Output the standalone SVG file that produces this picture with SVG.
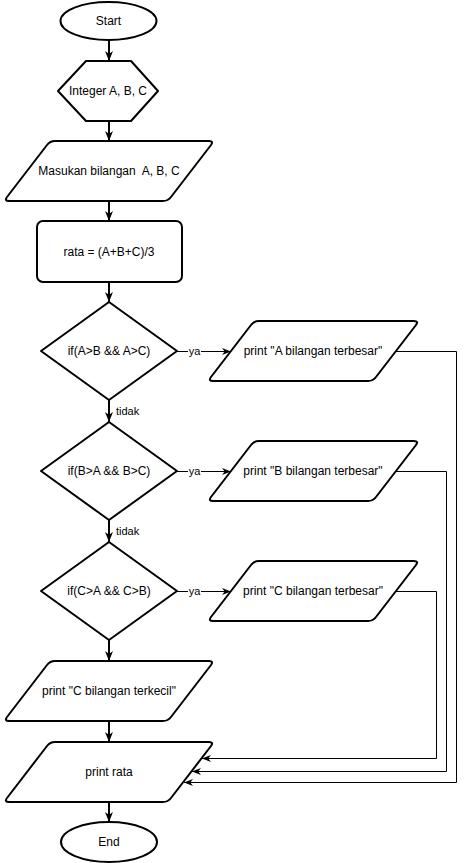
<svg xmlns="http://www.w3.org/2000/svg" width="465" height="863" viewBox="0 0 465 863">
<style>
.s{fill:#fff;stroke:#000;stroke-width:2;stroke-linejoin:round}
.t{font-family:"Liberation Sans",Arial,sans-serif;font-size:12px;fill:#000;text-anchor:middle;dominant-baseline:central;white-space:pre}
.l{font-family:"Liberation Sans",Arial,sans-serif;font-size:11px;fill:#000;dominant-baseline:central}
.m{fill:none;stroke:#000;stroke-width:2}
.r{fill:none;stroke:#000;stroke-width:1}
</style>
<defs>
<marker id="a2" markerUnits="userSpaceOnUse" markerWidth="10" markerHeight="10" viewBox="0 0 10 10" refX="10" refY="5" orient="auto">
<path d="M0,1 L10,5 L0,9 L3,5 Z" fill="#000"/>
</marker>
<marker id="a1" markerUnits="userSpaceOnUse" markerWidth="9" markerHeight="9" viewBox="0 0 10 10" refX="10" refY="5" orient="auto">
<path d="M0,1 L10,5 L0,9 L3,5 Z" fill="#000"/>
</marker>
</defs>
<g id="connectors">
<path class="m" d="M109,39 V61" marker-end="url(#a2)"/>
<path class="m" d="M109,121 V141" marker-end="url(#a2)"/>
<path class="m" d="M109,201 V221" marker-end="url(#a2)"/>
<path class="m" d="M109,282 V302" marker-end="url(#a2)"/>
<path class="m" d="M109,400 V422" marker-end="url(#a2)"/>
<path class="m" d="M109,520 V542" marker-end="url(#a2)"/>
<path class="m" d="M109,640 V661" marker-end="url(#a2)"/>
<path class="m" d="M109,721 V742" marker-end="url(#a2)"/>
<path class="m" d="M109,801 V822" marker-end="url(#a2)"/>
<path class="r" d="M177,351.5 H231" marker-end="url(#a1)"/>
<path class="r" d="M177,471.5 H231" marker-end="url(#a1)"/>
<path class="r" d="M177,591.5 H231" marker-end="url(#a1)"/>
<path class="r" d="M396,351.5 H456.5 V782.5 H184" marker-end="url(#a1)"/>
<path class="r" d="M396,471.5 H446.5 V771.5 H192" marker-end="url(#a1)"/>
<path class="r" d="M396,591.5 H436.5 V758.5 H202" marker-end="url(#a1)"/>
<rect x="188" y="344" width="13" height="14" fill="#fff"/>
<text class="l" x="194.5" y="351" text-anchor="middle">ya</text>
<rect x="188" y="464" width="13" height="14" fill="#fff"/>
<text class="l" x="194.5" y="471" text-anchor="middle">ya</text>
<rect x="188" y="584" width="13" height="14" fill="#fff"/>
<text class="l" x="194.5" y="591" text-anchor="middle">ya</text>
<text class="l" x="116" y="411">tidak</text>
<text class="l" x="116" y="531">tidak</text>
</g>
<g id="start">
<ellipse class="s" cx="108.5" cy="21" rx="48" ry="19"/>
<text class="t" x="108.5" y="21">Start</text>
</g>
<g id="integer">
<path class="s" d="M58,91 L86,61 H131 L158,91 L131,121 H86 Z"/>
<text class="t" x="108" y="91">Integer A, B, C</text>
</g>
<g id="input">
<path class="s" d="M55,141 H209 Q214,141 211,145 L171,197 Q168,201 163,201 H9 Q4,201 7,197 L47,145 Q50,141 55,141 Z"/>
<text class="t" x="109" y="171" xml:space="preserve">Masukan bilangan  A, B, C</text>
</g>
<g id="rata">
<rect class="s" x="37" y="221" width="145" height="61" rx="6"/>
<text class="t" x="109" y="251.5">rata = (A+B+C)/3</text>
</g>
<g id="if1">
<path class="s" d="M109,302 L177,351 L109,400 L41,351 Z"/>
<text class="t" x="109" y="351">if(A&gt;B &amp;&amp; A&gt;C)</text>
</g>
<g id="if2">
<path class="s" d="M109,422 L177,471 L109,520 L41,471 Z"/>
<text class="t" x="109" y="471">if(B&gt;A &amp;&amp; B&gt;C)</text>
</g>
<g id="if3">
<path class="s" d="M109,542 L177,591 L109,640 L41,591 Z"/>
<text class="t" x="109" y="591">if(C&gt;A &amp;&amp; C&gt;B)</text>
</g>
<g id="printA">
<path class="s" d="M259,321 H414 Q419,321 416,325 L376,377 Q373,381 368,381 H213 Q208,381 211,377 L251,325 Q254,321 259,321 Z"/>
<text class="t" x="313" y="351">print "A bilangan terbesar"</text>
</g>
<g id="printB">
<path class="s" d="M259,441 H414 Q419,441 416,445 L376,497 Q373,501 368,501 H213 Q208,501 211,497 L251,445 Q254,441 259,441 Z"/>
<text class="t" x="313" y="471">print "B bilangan terbesar"</text>
</g>
<g id="printC">
<path class="s" d="M259,561 H414 Q419,561 416,565 L376,617 Q373,621 368,621 H213 Q208,621 211,617 L251,565 Q254,561 259,561 Z"/>
<text class="t" x="313" y="591">print "C bilangan terbesar"</text>
</g>
<g id="terkecil">
<path class="s" d="M55,661 H209 Q214,661 211,665 L171,717 Q168,721 163,721 H9 Q4,721 7,717 L47,665 Q50,661 55,661 Z"/>
<text class="t" x="109" y="691">print "C bilangan terkecil"</text>
</g>
<g id="printrata">
<path class="s" d="M55,742 H209 Q214,742 211,746 L171,798 Q168,802 163,802 H9 Q4,802 7,798 L47,746 Q50,742 55,742 Z"/>
<text class="t" x="109" y="772">print rata</text>
</g>
<g id="end">
<ellipse class="s" cx="109" cy="842" rx="48" ry="20"/>
<text class="t" x="109" y="842">End</text>
</g>
</svg>
